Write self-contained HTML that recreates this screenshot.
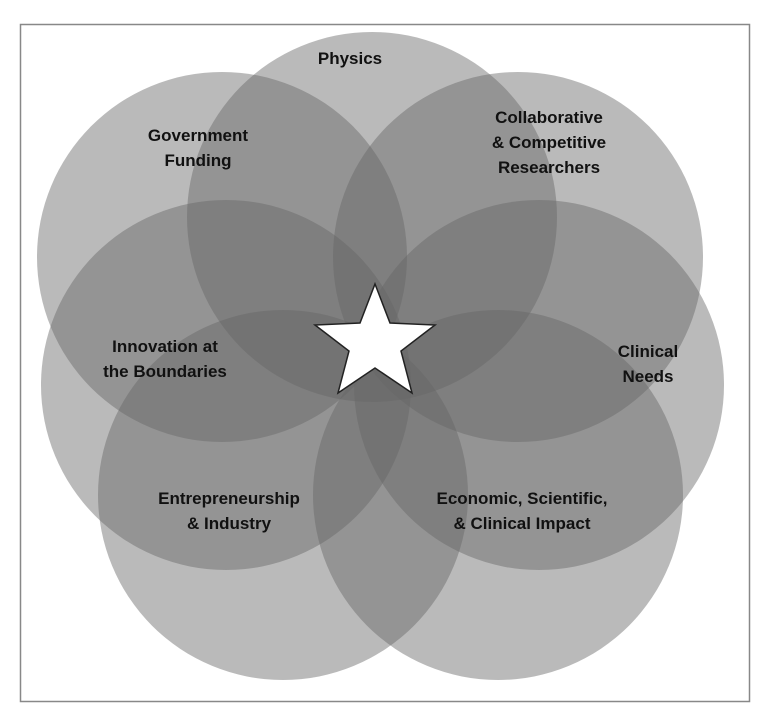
<!DOCTYPE html>
<html><head><style>
html,body{margin:0;padding:0;background:#fff;}
svg{display:block;}
text{font-family:"Liberation Sans",sans-serif;font-weight:bold;font-size:17px;fill:#111;text-anchor:middle;}
</style></head><body>
<svg width="768" height="721" viewBox="0 0 768 721">
<rect x="20.5" y="24.5" width="729" height="677" fill="#fff" stroke="#888" stroke-width="1.5"/>
<g fill="#666" fill-opacity="0.45">
<circle cx="372" cy="217" r="185"/>
<circle cx="222" cy="257" r="185"/>
<circle cx="518" cy="257" r="185"/>
<circle cx="226" cy="385" r="185"/>
<circle cx="539" cy="385" r="185"/>
<circle cx="283" cy="495" r="185"/>
<circle cx="498" cy="495" r="185"/>
</g>
<polygon points="375,284 390,323 435,325 401,351 412,393 375,368 338,393 349,351 315,325 360,323" fill="#fff" stroke="#222" stroke-width="1.5"/>
<text x="350" y="64">Physics</text>
<text x="198" y="141">Government</text>
<text x="198" y="166">Funding</text>
<text x="549" y="123">Collaborative</text>
<text x="549" y="148">&amp; Competitive</text>
<text x="549" y="173">Researchers</text>
<text x="165" y="352">Innovation at</text>
<text x="165" y="377">the Boundaries</text>
<text x="648" y="357">Clinical</text>
<text x="648" y="382">Needs</text>
<text x="229" y="504">Entrepreneurship</text>
<text x="229" y="529">&amp; Industry</text>
<text x="522" y="504">Economic, Scientific,</text>
<text x="522" y="529">&amp; Clinical Impact</text>
</svg>
</body></html>
